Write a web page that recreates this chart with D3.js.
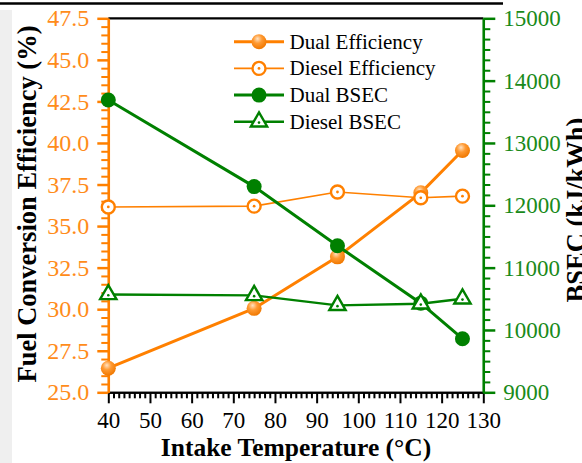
<!DOCTYPE html>
<html>
<head>
<meta charset="utf-8">
<script src="https://cdn.jsdelivr.net/npm/d3@7"></script>
<style>
  body { margin: 0; background: #ffffff; }
  svg { display: block; }
</style>
</head>
<body>
<svg id="chart" width="582" height="463"></svg>
<script>
// Intake temperature sweep (°C)
const temps = [40, 75, 95, 115, 125];
// Fuel conversion efficiency (%)
const dualEff = [26.45, 30.05, 33.15, 37.0, 39.55];
const dieselEff = [36.15, 36.2, 37.05, 36.7, 36.8];
// Brake specific energy consumption (kJ/kWh)
const dualBsec = [13690, 12300, 11350, 10430, 9860];
const dieselBsec = [10570, 10555, 10395, 10420, 10500];

const xTicks = [40, 50, 60, 70, 80, 90, 100, 110, 120, 130];
const effTicks = [25.0, 27.5, 30.0, 32.5, 35.0, 37.5, 40.0, 42.5, 45.0, 47.5];
const bsecTicks = [9000, 10000, 11000, 12000, 13000, 14000, 15000];
const legendLabels = ["Dual Efficiency", "Diesel Efficiency", "Dual BSEC", "Diesel BSEC"];

const ORANGE = "#ff8000";
const ORANGE_TXT = "#ff8c1a";
const GREEN = "#008000";
const GREEN_TXT = "#1a8a1a";
const SERIF = "'Liberation Serif', 'Times New Roman', serif";

const svg = d3.select("#chart");
const L = 108.3, R = 483.3, T = 18.3, B = 392.3;

const x = d3.scaleLinear().domain([40, 130]).range([L, R]);
const yEff = d3.scaleLinear().domain([25, 47.5]).range([B, T]);
const yBsec = d3.scaleLinear().domain([9000, 15000]).range([B, T]);

// faint background band on the left edge
svg.append("rect").attr("x", 0).attr("y", 10).attr("width", 12).attr("height", 453)
  .attr("fill", "#efefef");

// rule above the figure
svg.append("line").attr("x1", 0).attr("x2", 503).attr("y1", 3.5).attr("y2", 3.5)
  .attr("stroke", "#000").attr("stroke-width", 2.5);

// top frame line
svg.append("line").attr("x1", L).attr("x2", R).attr("y1", T).attr("y2", T)
  .attr("stroke", "#000").attr("stroke-width", 2.2);

function styleAxis(g, color, width) {
  g.select(".domain").attr("stroke", color).attr("stroke-width", width);
  g.selectAll(".tick line").attr("stroke", color).attr("stroke-width", width);
}

// bottom axis: minor then major ticks
const xMinor = d3.range(0, 73).map(i => 40 + i * 1.25).filter(v => v <= 130 && v % 10 !== 0);
const gxm = svg.append("g").attr("transform", `translate(0,${B})`)
  .call(d3.axisBottom(x).tickValues(xMinor).tickSize(6).tickSizeOuter(0).tickFormat(""));
styleAxis(gxm, "#000", 2);
const gx = svg.append("g").attr("transform", `translate(0,${B})`)
  .call(d3.axisBottom(x).tickValues(xTicks).tickSize(11).tickSizeOuter(0).tickPadding(8));
styleAxis(gx, "#000", 2);
gx.selectAll("text").attr("font-family", SERIF).attr("font-size", 23).attr("fill", "#000");

// left efficiency axis
const effMinor = d3.range(0, 46).map(i => 25 + i * 0.5).filter(v => Math.abs((v - 25) % 2.5) > 1e-6);
const gym = svg.append("g").attr("transform", `translate(${L},0)`)
  .call(d3.axisLeft(yEff).tickValues(effMinor).tickSize(7).tickSizeOuter(0).tickFormat(""));
styleAxis(gym, ORANGE, 2);
const gy = svg.append("g").attr("transform", `translate(${L},0)`)
  .call(d3.axisLeft(yEff).tickValues(effTicks).tickSize(11).tickSizeOuter(0)
    .tickPadding(8).tickFormat(d3.format(".1f")));
styleAxis(gy, ORANGE, 2.5);
gy.selectAll("text").attr("font-family", SERIF).attr("font-size", 24).attr("fill", ORANGE_TXT);

// right BSEC axis
const bsecMinor = [];
for (let k = 0; k < 6; k++) for (let j = 1; j < 6; j++) bsecMinor.push(9000 + k * 1000 + j * 1000 / 6);
const grm = svg.append("g").attr("transform", `translate(${R},0)`)
  .call(d3.axisRight(yBsec).tickValues(bsecMinor).tickSize(7).tickSizeOuter(0).tickFormat(""));
styleAxis(grm, GREEN, 2);
const gr = svg.append("g").attr("transform", `translate(${R},0)`)
  .call(d3.axisRight(yBsec).tickValues(bsecTicks).tickSize(12).tickSizeOuter(0)
    .tickPadding(8).tickFormat(d3.format("d")));
styleAxis(gr, GREEN, 2.5);
gr.selectAll("text").attr("font-family", SERIF).attr("font-size", 23).attr("fill", GREEN_TXT);

// axis titles
svg.append("text").attr("x", 296).attr("y", 456).attr("text-anchor", "middle")
  .attr("font-family", SERIF).attr("font-weight", "bold").attr("font-size", 25.5)
  .text("Intake Temperature (°C)");
svg.append("text").attr("transform", `translate(36,204) rotate(-90)`)
  .attr("text-anchor", "middle")
  .attr("font-family", SERIF).attr("font-weight", "bold").attr("font-size", 26.5)
  .text("Fuel Conversion Efficiency (%)");
svg.append("text").attr("transform", `translate(585,210) rotate(-90)`)
  .attr("text-anchor", "middle")
  .attr("font-family", SERIF).attr("font-weight", "bold").attr("font-size", 26.5)
  .text("BSEC (kJ/kWh)");

// shaded sphere fill for the dual-fuel efficiency markers
const defs = svg.append("defs");
const grad = defs.append("radialGradient").attr("id", "sphere")
  .attr("cx", "42%").attr("cy", "35%").attr("r", "65%").attr("fx", "40%").attr("fy", "30%");
grad.append("stop").attr("offset", "0%").attr("stop-color", "#ffe2c2");
grad.append("stop").attr("offset", "45%").attr("stop-color", "#ff9a33");
grad.append("stop").attr("offset", "100%").attr("stop-color", "#f07800");

const pts = (ys, yScale) => temps.map((t, i) => [x(t), yScale(ys[i])]);
const line = d3.line();

// marker painters
function sphere(g, cx, cy) {
  g.append("circle").attr("cx", cx).attr("cy", cy).attr("r", 7.5).attr("fill", "url(#sphere)");
}
function openCircle(g, cx, cy) {
  g.append("circle").attr("cx", cx).attr("cy", cy).attr("r", 6.5)
    .attr("fill", "#fff").attr("stroke", ORANGE).attr("stroke-width", 2.4);
  g.append("circle").attr("cx", cx).attr("cy", cy).attr("r", 1.4).attr("fill", ORANGE);
}
function dot(g, cx, cy) {
  g.append("circle").attr("cx", cx).attr("cy", cy).attr("r", 7.5).attr("fill", GREEN);
}
const triPath = d3.symbol(d3.symbolTriangle, 115)();
function openTri(g, cx, cy) {
  g.append("path").attr("d", triPath).attr("transform", `translate(${cx},${cy})`)
    .attr("fill", "#fff").attr("stroke", GREEN).attr("stroke-width", 2.4)
    .attr("stroke-linejoin", "miter");
  g.append("circle").attr("cx", cx).attr("cy", cy + 0.8).attr("r", 1.3).attr("fill", GREEN);
}

const series = [
  { vals: dualEff, scale: yEff, color: ORANGE, width: 3, mark: sphere },
  { vals: dieselEff, scale: yEff, color: ORANGE, width: 1.6, mark: openCircle },
  { vals: dualBsec, scale: yBsec, color: GREEN, width: 3, mark: dot },
  { vals: dieselBsec, scale: yBsec, color: GREEN, width: 2.4, mark: openTri }
];

series.forEach(s => {
  const g = svg.append("g");
  const p = pts(s.vals, s.scale);
  g.append("path").attr("d", line(p)).attr("fill", "none")
    .attr("stroke", s.color).attr("stroke-width", s.width);
  p.forEach(([cx, cy]) => s.mark(g, cx, cy));
});

// legend
const lg = svg.append("g");
legendLabels.forEach((lab, i) => {
  const s = series[i];
  const cy = 41.7 + i * 26.7;
  lg.append("line").attr("x1", 234).attr("x2", 284).attr("y1", cy).attr("y2", cy)
    .attr("stroke", s.color).attr("stroke-width", s.width);
  s.mark(lg, 259, cy);
  lg.append("text").attr("x", 289.5).attr("y", cy + 7)
    .attr("font-family", SERIF).attr("font-size", 21).attr("fill", "#000").text(lab);
});
</script>
</body>
</html>
